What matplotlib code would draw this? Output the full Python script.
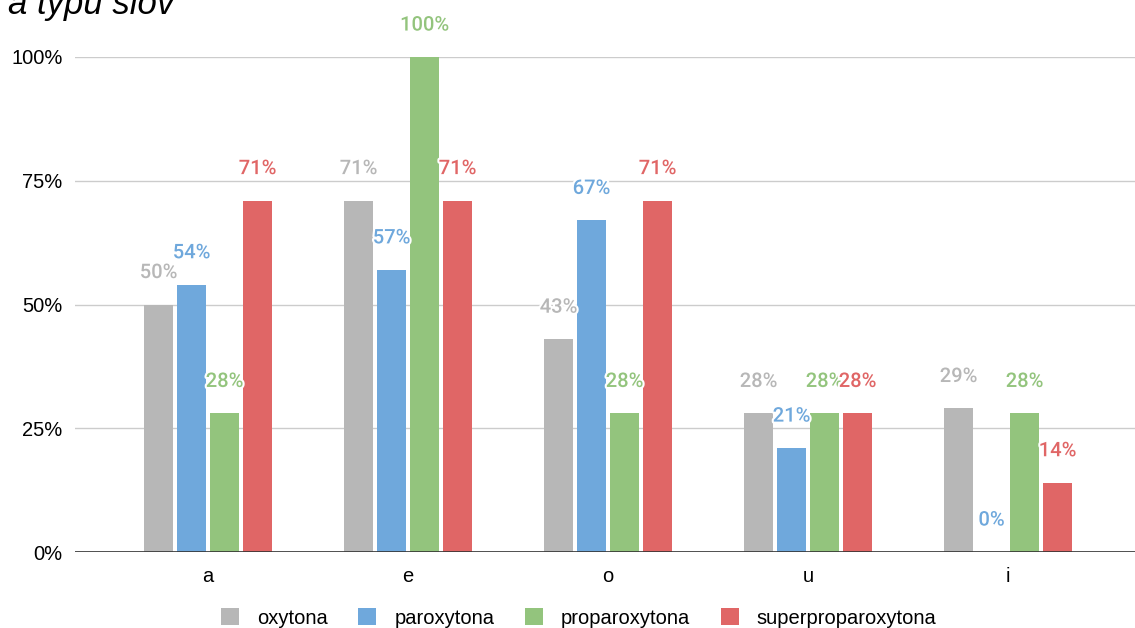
import numpy as np
import matplotlib
matplotlib.use("Agg")
import matplotlib.pyplot as plt
import matplotlib.patheffects as pe

vowels = ["a", "e", "o", "u", "i"]
series = ["oxytona", "paroxytona", "proparoxytona", "superproparoxytona"]
oxytona = [50, 71, 43, 28, 29]
paroxytona = [54, 57, 67, 21, 0]
proparoxytona = [28, 100, 28, 28, 28]
superproparoxytona = [71, 71, 71, 28, 14]
colors = ["#b7b7b7", "#6fa8dc", "#93c47d", "#e06666"]
yticks = [0, 25, 50, 75, 100]

plt.rcParams['font.family'] = ['Liberation Sans', 'DejaVu Sans']

fig = plt.figure(figsize=(11.35, 6.28), dpi=100)
ax = fig.add_axes([75/1135, 76/628, 1060/1135, 495/628])

x = np.arange(len(vowels))
slot = 0.165
width = 0.145
values = [oxytona, paroxytona, proparoxytona, superproparoxytona]

for i, (name, vals, c) in enumerate(zip(series, values, colors)):
    pos = x + (i - 1.5) * slot
    ax.bar(pos, vals, width, color=c, label=name, zorder=3)
    for px, v in zip(pos, vals):
        ax.annotate(f"{v}%", (px, v), xytext=(0, 23), textcoords="offset points",
                    ha="center", va="center", color=c, fontsize=14.5,
                    fontweight="medium", family=["Roboto", "DejaVu Sans"],
                    clip_on=False, zorder=5,
                    path_effects=[pe.withStroke(linewidth=3, foreground="white")])

ax.set_xlim(-0.665, 4.635)
ax.set_ylim(0, 100)
ax.set_yticks(yticks)
ax.set_yticklabels([f"{t}%" for t in yticks], fontsize=14.5)
ax.set_xticks(x)
ax.set_xticklabels(vowels, fontsize=14.5)
ax.tick_params(length=0, pad=11)
ax.tick_params(axis="y", pad=9)
ax.grid(axis="y", color="#cccccc", linewidth=1, zorder=0)
ax.axhline(0, color="#333333", linewidth=1.2, zorder=4)
for s in ax.spines.values():
    s.set_visible(False)

# title block, only its last line fits inside the canvas
fig.text(8/1135, 1 - 14/628, "a typu slov", fontsize=25, style="italic",
         va="baseline", ha="left")

handles, labels = ax.get_legend_handles_labels()
fig.legend(handles, labels, loc="center", bbox_to_anchor=(0.51, 1 - 618/628),
           ncol=4, frameon=False, fontsize=14.5, handlelength=0.9,
           handleheight=0.9, columnspacing=1.5, handletextpad=0.9)

fig.savefig("out.png", dpi=100)
